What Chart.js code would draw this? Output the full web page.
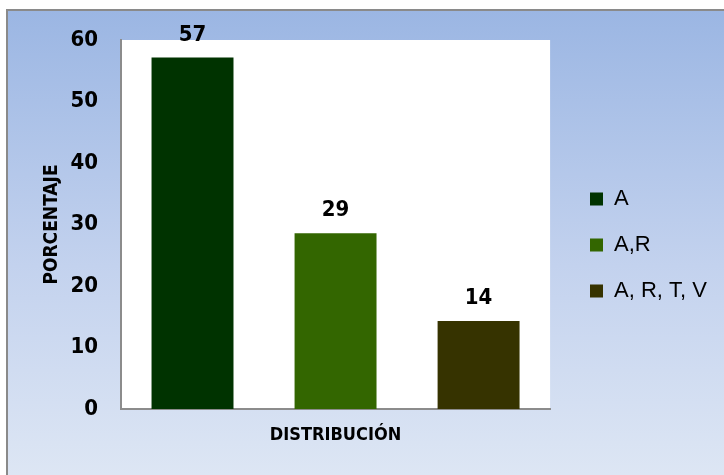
<!DOCTYPE html>
<html>
<head>
<meta charset="utf-8">
<script src="https://cdn.jsdelivr.net/npm/chart.js@4/dist/chart.umd.min.js"></script>
<style>
html,body{margin:0;padding:0;background:#ffffff;}
#wrap{width:724px;height:475px;}
</style>
</head>
<body>
<div id="wrap"><canvas id="c" width="724" height="475"></canvas></div>
<script>
const categories = [''];
const seriesNames = ['A', 'A,R', 'A, R, T, V'];
const seriesValues = [57.14, 28.57, 14.29];
const seriesColors = ['#003300', '#336600', '#363300'];
const yTitle = 'PORCENTAJE';
const xTitle = 'DISTRIBUCIÓN';
const yMin = 0, yMax = 60, yStep = 10;

const NARROW = "'Liberation Sans Narrow', 'Arial Narrow', 'DejaVu Sans Condensed', sans-serif";
const REG = "'Liberation Sans', Arial, sans-serif";

const bgPlugin = {
  id: 'bg',
  beforeDraw(chart) {
    const ctx = chart.ctx;
    const W = chart.width, H = chart.height;
    ctx.save();
    ctx.fillStyle = '#ffffff';
    ctx.fillRect(0, 0, W, H);
    const g = ctx.createLinearGradient(0, 10, 0, H);
    g.addColorStop(0, '#9bb6e3');
    g.addColorStop(0.55, '#c3d2ee');
    g.addColorStop(1, '#dde6f4');
    ctx.fillStyle = g;
    ctx.fillRect(7, 10, W - 7, H - 10);
    ctx.strokeStyle = '#8a8a8a';
    ctx.lineWidth = 2;
    ctx.beginPath();
    ctx.moveTo(7, H);
    ctx.lineTo(7, 10);
    ctx.lineTo(W, 10);
    ctx.stroke();
    const a = chart.chartArea;
    ctx.fillStyle = '#ffffff';
    ctx.fillRect(a.left, a.top, a.right - a.left, a.bottom - a.top);
    ctx.restore();
  }
};

const legendPos = {
  id: 'legendPos',
  afterLayout(chart) {
    const lg = chart.legend;
    if (!lg || !lg.columnSizes) return;
    const pad = lg.options.labels.padding;
    const dx = 590 - (lg.left + pad);
    lg.left += dx; lg.right += dx;
    const fs = lg.options.labels.font.size;
    const colH = lg.columnSizes[0].height;
    const pred = (lg.top + pad + lg.bottom - colH) / 2 + fs / 2;
    const dy = 199 - pred;
    lg.top += dy; lg.bottom += dy;
  }
};

const valueLabels = {
  id: 'valueLabels',
  afterDatasetsDraw(chart) {
    const ctx = chart.ctx;
    ctx.save();
    ctx.font = 'bold 22px ' + NARROW;
    ctx.fillStyle = '#000000';
    ctx.textAlign = 'center';
    ctx.textBaseline = 'alphabetic';
    chart.data.datasets.forEach((ds, i) => {
      const meta = chart.getDatasetMeta(i);
      meta.data.forEach((bar, j) => {
        ctx.fillText(String(Math.round(ds.data[j])), bar.x, bar.y - 17);
      });
    });
    ctx.restore();
  }
};

new Chart(document.getElementById('c'), {
  type: 'bar',
  data: {
    labels: categories,
    datasets: seriesNames.map((n, i) => ({
      label: n,
      data: [seriesValues[i]],
      backgroundColor: seriesColors[i],
      borderWidth: 0,
      categoryPercentage: 1.0,
      barPercentage: 0.573
    }))
  },
  options: {
    responsive: false,
    animation: false,
    devicePixelRatio: 1,
    layout: { padding: { left: 0, top: 40, right: 23, bottom: 0 } },
    plugins: {
      legend: {
        display: true,
        position: 'right',
        align: 'center',
        labels: {
          boxWidth: 13,
          boxHeight: 13,
          padding: 24,
          color: '#000000',
          font: { family: REG, size: 22, weight: 'normal' }
        }
      },
      tooltip: { enabled: false },
      title: { display: false }
    },
    scales: {
      x: {
        grid: { display: false, drawTicks: false },
        border: { display: true, color: '#8c8c8c', width: 2 },
        ticks: { display: false },
        title: {
          display: true, text: xTitle, color: '#000000',
          font: { family: NARROW, size: 18, weight: 'bold' },
          padding: { top: 0, bottom: 29 }
        },
        afterFit(s) { s.height = 66; }
      },
      y: {
        min: yMin, max: yMax,
        grid: { display: false, drawTicks: false },
        border: { display: true, color: '#8c8c8c', width: 2 },
        ticks: {
          stepSize: yStep, padding: 23, color: '#000000',
          font: { family: NARROW, size: 22, weight: 'bold' }
        },
        title: {
          display: true, text: yTitle, color: '#000000',
          font: { family: NARROW, size: 19, weight: 'bold' },
          padding: { top: 41, bottom: 0 }
        },
        afterFit(s) { s.width = 121; }
      }
    }
  },
  plugins: [bgPlugin, legendPos, valueLabels]
});
</script>
</body>
</html>
